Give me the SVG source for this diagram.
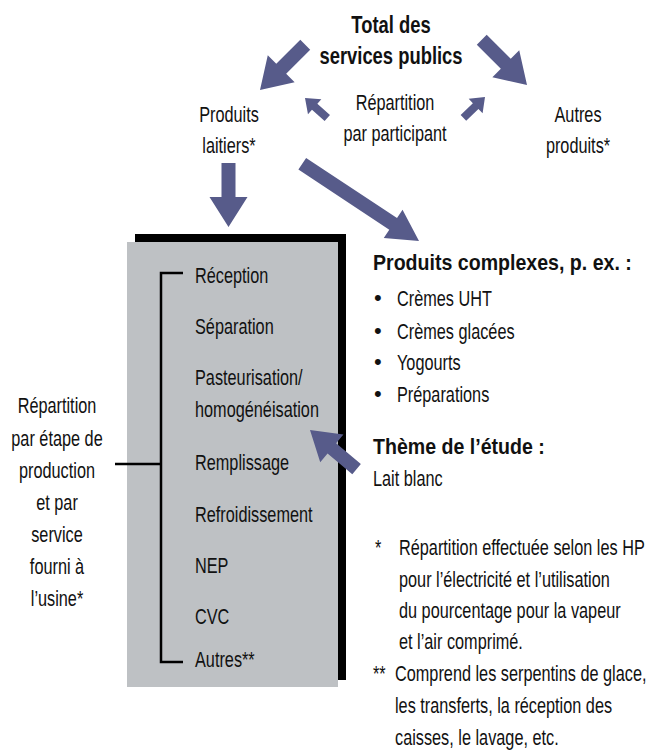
<svg xmlns="http://www.w3.org/2000/svg" xmlns:xlink="http://www.w3.org/1999/xlink" width="653" height="752" viewBox="0 0 653 752">
<style>
text{font-family:"Liberation Sans",Arial,sans-serif;font-size:22px;fill:#111;}
.b{font-weight:bold;}
.t{font-size:23px;}
.c{text-anchor:middle;}
.bu{font-size:22px;}
.arr{fill:#575b8a;}
.ln{stroke:#000;stroke-width:2.5;fill:none;}
</style>
<defs>
<polygon id="big" points="0,0 -30,-19 -30,-7 -64,-7 -64,7 -30,7 -30,19"/>
<polygon id="sm" points="0,0 -13,-10 -13,-4 -30,-4 -30,4 -13,4 -13,10"/>
</defs>
<rect width="653" height="752" fill="#fff"/>
<g id="box">
<rect x="135" y="234" width="211" height="446" fill="#000"/>
<rect x="127" y="242" width="211" height="445" fill="#bec1c4"/>
</g>
<g id="connectors" class="arr">
<use xlink:href="#big" transform="translate(260,90) rotate(135)"/>
<use xlink:href="#big" transform="translate(527,85) rotate(45)"/>
<use xlink:href="#big" transform="translate(228.5,227) rotate(90)"/>
<polygon points="0,0 -31,-17 -31,-7 -140,-7 -140,7 -31,7 -31,17" transform="translate(419,241) rotate(33.5)"/>
<use xlink:href="#big" transform="translate(310,430) rotate(220) scale(0.95)"/>
<use xlink:href="#sm" transform="translate(305,98) rotate(222)"/>
<use xlink:href="#sm" transform="translate(485,97) rotate(-44)"/>
<path class="ln" d="M183,273 H161 V662 H183 M115,464 H161"/>
</g>
<g id="total">
<text class="b c t" transform="translate(391 33) scale(.8 1)">Total des</text>
<text class="b c t" transform="translate(391 64) scale(.8 1)">services publics</text>
</g>
<g id="laitiers">
<text class="c" transform="translate(229 122) scale(.74 1)">Produits</text>
<text class="c" transform="translate(229 153) scale(.74 1)">laitiers*</text>
</g>
<g id="participant">
<text class="c" transform="translate(395 110) scale(.74 1)">Répartition</text>
<text class="c" transform="translate(395 141) scale(.74 1)">par participant</text>
</g>
<g id="autres">
<text class="c" transform="translate(578 122) scale(.74 1)">Autres</text>
<text class="c" transform="translate(578 153) scale(.74 1)">produits*</text>
</g>
<g id="etapes">
<text transform="translate(195 283) scale(.74 1)">Réception</text>
<text transform="translate(195 334) scale(.74 1)">Séparation</text>
<text transform="translate(195 385) scale(.74 1)">Pasteurisation/</text>
<text transform="translate(195 417) scale(.74 1)">homogénéisation</text>
<text transform="translate(195 470) scale(.74 1)">Remplissage</text>
<text transform="translate(195 522) scale(.74 1)">Refroidissement</text>
<text transform="translate(195 573) scale(.74 1)">NEP</text>
<text transform="translate(195 624) scale(.74 1)">CVC</text>
<text transform="translate(195 667) scale(.74 1)">Autres**</text>
</g>
<g id="repartition-etape">
<text class="c" transform="translate(57 413) scale(.74 1)">Répartition</text>
<text class="c" transform="translate(57 446) scale(.74 1)">par étape de</text>
<text class="c" transform="translate(57 478) scale(.74 1)">production</text>
<text class="c" transform="translate(57 510) scale(.74 1)">et par</text>
<text class="c" transform="translate(57 542) scale(.74 1)">service</text>
<text class="c" transform="translate(57 574) scale(.74 1)">fourni à</text>
<text class="c" transform="translate(57 606) scale(.74 1)">l’usine*</text>
</g>
<g id="complexes">
<text class="b" transform="translate(373 270) scale(.89 1)">Produits complexes, p. ex. :</text>
<text class="bu" x="374" y="305">•</text><text transform="translate(397 306) scale(.74 1)">Crèmes UHT</text>
<text class="bu" x="374" y="338">•</text><text transform="translate(397 339) scale(.74 1)">Crèmes glacées</text>
<text class="bu" x="374" y="369">•</text><text transform="translate(397 370) scale(.74 1)">Yogourts</text>
<text class="bu" x="374" y="401">•</text><text transform="translate(397 402) scale(.74 1)">Préparations</text>
</g>
<g id="theme">
<text class="b" transform="translate(373 454) scale(.89 1)">Thème de l’étude :</text>
<text transform="translate(373 486) scale(.74 1)">Lait blanc</text>
</g>
<g id="notes">
<text transform="translate(375 555) scale(.74 1)">*</text>
<text transform="translate(399 555) scale(.74 1)">Répartition effectuée selon les HP</text>
<text transform="translate(399 587) scale(.74 1)">pour l’électricité et l’utilisation</text>
<text transform="translate(399 618) scale(.74 1)">du pourcentage pour la vapeur</text>
<text transform="translate(399 649) scale(.74 1)">et l’air comprimé.</text>
<text transform="translate(373 681) scale(.74 1)">**</text>
<text transform="translate(395 681) scale(.74 1)">Comprend les serpentins de glace,</text>
<text transform="translate(395 713) scale(.74 1)">les transferts, la réception des</text>
<text transform="translate(395 745) scale(.74 1)">caisses, le lavage, etc.</text>
</g>
</svg>
